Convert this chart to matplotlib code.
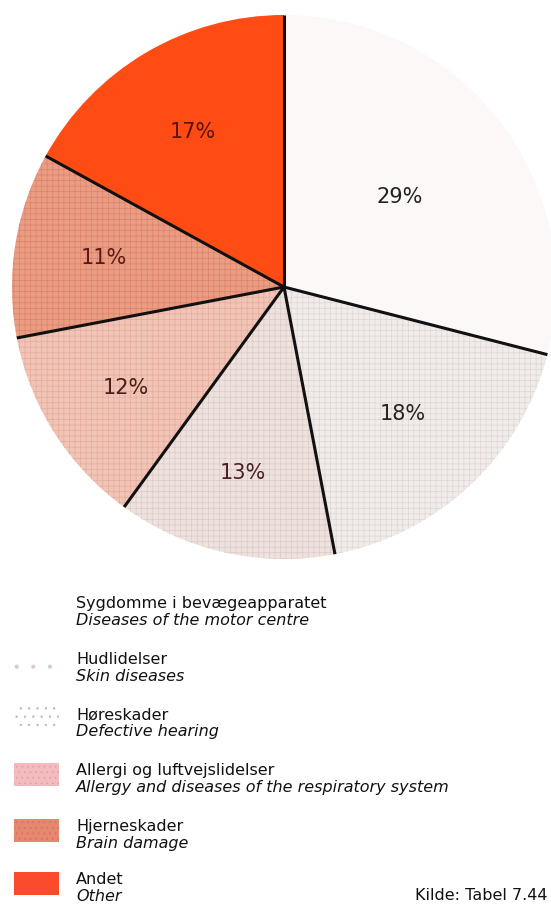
import numpy as np
import matplotlib
matplotlib.use("Agg")
import matplotlib.pyplot as plt
from matplotlib.patches import Rectangle

# ---- data ----
categories_da = ["Sygdomme i bevægeapparatet", "Hudlidelser", "Høreskader",
                 "Allergi og luftvejslidelser", "Hjerneskader", "Andet"]
categories_en = ["Diseases of the motor centre", "Skin diseases", "Defective hearing",
                 "Allergy and diseases of the respiratory system", "Brain damage", "Other"]
shares = [29, 18, 13, 12, 11, 17]
source = "Kilde: Tabel 7.44"

# ---- styles ----
plt.rcParams["hatch.linewidth"] = 0.5
slice_colors = ["#fbf8f7", "#f1ecea", "#eee2df", "#f0c5b7", "#ea9d84", "#ff4b14"]
hatch_colors = [None, "#ddd6d4", "#dccbc7", "#e6ab9a", "#dc8469", None]
swatch_face = ["none", "white", "white", "#f2bcbf", "#e6876f", "#fa4c2c"]
swatch_hatch = [None, "#d9c9c9", "#c9b5b5", "#e89ea2", "#d8705a", None]
swatch_pat = [None, ".", "..", "...", "...", None]
label_colors = ["#222222", "#2a2222", "#4a2020", "#4a1e18", "#5a1a12", "#5a140a"]
label_dist = [0.54, 0.64, 0.70, 0.69, 0.67, 0.66]

FONT = "DejaVu Sans"
W, H = 551, 905
fig = plt.figure(figsize=(W / 100, H / 100), dpi=100)
ax = fig.add_axes([0, 0, 1, 1])

cx, cy, R = 284, H - 287, 272
wedges, _ = ax.pie(shares, colors=slice_colors, startangle=90, counterclock=False,
                   center=(cx, cy), radius=R, frame=True,
                   wedgeprops=dict(linewidth=0))
for w, hc in zip(wedges, hatch_colors):
    if hc is not None:
        w.set_hatch("+++")
        w.set_edgecolor(hc)
    w.set_linewidth(0)
ax.set_xlim(0, W)
ax.set_ylim(0, H)
ax.set_aspect("equal")
ax.axis("off")

# radial separators and labels
total = sum(shares)
ang = 90.0
for v, d, lc in zip(shares, label_dist, label_colors):
    theta = np.deg2rad(ang)
    ax.plot([cx, cx + R * np.cos(theta)], [cy, cy + R * np.sin(theta)],
            color="#111111", lw=2.2, solid_capstyle="butt", zorder=5)
    mid = np.deg2rad(ang - 360 * v / total / 2)
    ax.text(cx + d * R * np.cos(mid), cy + d * R * np.sin(mid), f"{v}%",
            ha="center", va="center", fontsize=15, color=lc,
            family=FONT, zorder=6)
    ang -= 360 * v / total

# legend
baselines = [608, 664, 719, 775, 831, 884]
for da, en, fc, hc, pat, yb in zip(categories_da, categories_en, swatch_face,
                                   swatch_hatch, swatch_pat, baselines):
    fig.text(76 / W, 1 - yb / H, da, fontsize=11.5, family=FONT,
             color="#111111", va="baseline", ha="left")
    fig.text(76 / W, 1 - (yb + 17) / H, en, fontsize=11.5, family=FONT,
             style="italic", color="#111111", va="baseline", ha="left")
    if fc != "none":
        rect = Rectangle((14, H - (yb + 11)), 45, 23, facecolor=fc,
                         edgecolor=hc if hc else "none", linewidth=0, zorder=3)
        if pat:
            rect.set_hatch(pat)
        ax.add_patch(rect)

fig.text(415 / W, 1 - 900 / H, source, fontsize=11.5, family=FONT,
         color="#111111", va="baseline", ha="left")

fig.savefig("out.png", dpi=100)
